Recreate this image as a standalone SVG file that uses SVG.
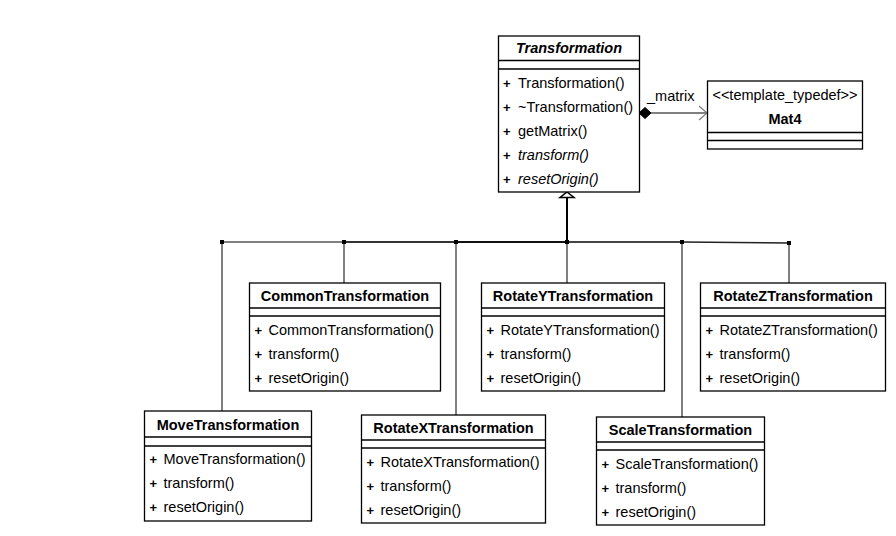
<svg xmlns="http://www.w3.org/2000/svg" width="896" height="536" viewBox="0 0 896 536">
<style>
text{font-family:"Liberation Sans",Arial,sans-serif;font-size:14.5px;fill:#000}
.t{font-weight:bold;text-anchor:middle}
.ti{font-weight:bold;font-style:italic;text-anchor:middle}
.i{font-style:italic}
.c{text-anchor:middle}
.p{font-weight:bold;font-size:13px}
.b{fill:#fff;stroke:#000;stroke-width:1.3}
.s{stroke:#000;stroke-width:1.3}
.g{stroke:#808080;stroke-width:2;fill:none}
</style>
<defs>
<g id="plus3"><text class="p" x="5" y="52">+</text><text class="p" x="5" y="76">+</text><text class="p" x="5" y="100">+</text></g>
</defs>
<rect width="896" height="536" fill="#fff"/>
<g id="connectors">
<line class="g" x1="222" y1="242" x2="222" y2="411"/>
<line class="g" x1="344" y1="242" x2="344" y2="283"/>
<line class="g" x1="456" y1="242" x2="456" y2="415"/>
<line class="g" x1="567" y1="242" x2="567" y2="283"/>
<line class="g" x1="682" y1="242" x2="682" y2="417"/>
<line class="g" x1="789" y1="243" x2="789" y2="283"/>
<line x1="222" y1="242" x2="344" y2="242" stroke="#808080" stroke-width="2"/>
<line x1="344" y1="242" x2="456" y2="242" stroke="#333" stroke-width="2"/>
<line x1="456" y1="242" x2="567" y2="242" stroke="#111" stroke-width="2"/>
<line x1="567" y1="242" x2="682" y2="242" stroke="#444" stroke-width="2"/>
<line x1="682" y1="242" x2="789" y2="243" stroke="#222" stroke-width="1.3"/>
<line x1="567" y1="197" x2="567" y2="242" stroke="#000" stroke-width="2"/>
<path d="M567,192 L574,197.5 L560,197.5 Z" fill="#fff" stroke="#000" stroke-width="1.5"/>
<g fill="#000"><rect x="220" y="240" width="4" height="4"/><rect x="342" y="240" width="4" height="4"/><rect x="454" y="240" width="4" height="4"/><rect x="565" y="240" width="4" height="4"/><rect x="680" y="240" width="4" height="4"/><rect x="787" y="241" width="4" height="4"/></g>
<line x1="651" y1="113" x2="706" y2="113" stroke="#808080" stroke-width="2"/>
<path d="M699,106 L707,113 L699,120" fill="none" stroke="#808080" stroke-width="1.3"/>
<path d="M639,113 L645,107.5 L651,113 L645,118.5 Z" fill="#000" stroke="#000"/>
<text x="647" y="101">_matrix</text>
</g>
<g id="Transformation">
<rect class="b" x="498.5" y="36" width="141" height="156"/>
<line class="s" x1="498.5" y1="60.5" x2="639.5" y2="60.5"/>
<line class="s" x1="498.5" y1="69" x2="639.5" y2="69"/>
<text class="ti" x="569" y="53">Transformation</text>
<text class="p" x="503" y="88">+</text><text x="518" y="88">Transformation()</text>
<text class="p" x="503" y="112">+</text><text x="518" y="112">~Transformation()</text>
<text class="p" x="503" y="136">+</text><text x="518" y="136">getMatrix()</text>
<text class="p" x="503" y="160">+</text><text class="i" x="518" y="160">transform()</text>
<text class="p" x="503" y="184">+</text><text class="i" x="518" y="184">resetOrigin()</text>
</g>
<g id="Mat4">
<rect class="b" x="707.5" y="81" width="155" height="68"/>
<line class="s" x1="707.5" y1="132.5" x2="862.5" y2="132.5"/>
<line class="s" x1="707.5" y1="140.5" x2="862.5" y2="140.5"/>
<text class="c" x="785" y="100">&lt;&lt;template_typedef&gt;&gt;</text>
<text class="t" x="785" y="124">Mat4</text>
</g>
<g id="CommonTransformation" transform="translate(249.5,283)">
<rect class="b" x="0" y="0" width="191" height="108"/>
<line class="s" x1="0" y1="25" x2="191" y2="25"/><line class="s" x1="0" y1="33" x2="191" y2="33"/>
<text class="t" x="95.5" y="18">CommonTransformation</text>
<use href="#plus3"/>
<text x="19" y="52">CommonTransformation()</text><text x="19" y="76">transform()</text><text x="19" y="100">resetOrigin()</text>
</g>
<g id="RotateYTransformation" transform="translate(481.5,283)">
<rect class="b" x="0" y="0" width="183" height="108"/>
<line class="s" x1="0" y1="25" x2="183" y2="25"/><line class="s" x1="0" y1="33" x2="183" y2="33"/>
<text class="t" x="91.5" y="18">RotateYTransformation</text>
<use href="#plus3"/>
<text x="19" y="52">RotateYTransformation()</text><text x="19" y="76">transform()</text><text x="19" y="100">resetOrigin()</text>
</g>
<g id="RotateZTransformation" transform="translate(700.5,283)">
<rect class="b" x="0" y="0" width="185" height="108"/>
<line class="s" x1="0" y1="25" x2="185" y2="25"/><line class="s" x1="0" y1="33" x2="185" y2="33"/>
<text class="t" x="92.5" y="18">RotateZTransformation</text>
<use href="#plus3"/>
<text x="19" y="52">RotateZTransformation()</text><text x="19" y="76">transform()</text><text x="19" y="100">resetOrigin()</text>
</g>
<g id="MoveTransformation" transform="translate(144.5,411)">
<rect class="b" x="0" y="0" width="167" height="110"/>
<line class="s" x1="0" y1="26" x2="167" y2="26"/><line class="s" x1="0" y1="35" x2="167" y2="35"/>
<text class="t" x="83.5" y="19">MoveTransformation</text>
<use href="#plus3" transform="translate(0,1)"/>
<text x="19" y="53">MoveTransformation()</text><text x="19" y="77">transform()</text><text x="19" y="101">resetOrigin()</text>
</g>
<g id="RotateXTransformation" transform="translate(361.5,415)">
<rect class="b" x="0" y="0" width="184" height="108"/>
<line class="s" x1="0" y1="25" x2="184" y2="25"/><line class="s" x1="0" y1="33" x2="184" y2="33"/>
<text class="t" x="92" y="18">RotateXTransformation</text>
<use href="#plus3"/>
<text x="19" y="52">RotateXTransformation()</text><text x="19" y="76">transform()</text><text x="19" y="100">resetOrigin()</text>
</g>
<g id="ScaleTransformation" transform="translate(596.5,417)">
<rect class="b" x="0" y="0" width="168" height="108"/>
<line class="s" x1="0" y1="25" x2="168" y2="25"/><line class="s" x1="0" y1="33" x2="168" y2="33"/>
<text class="t" x="84" y="18">ScaleTransformation</text>
<use href="#plus3"/>
<text x="19" y="52">ScaleTransformation()</text><text x="19" y="76">transform()</text><text x="19" y="100">resetOrigin()</text>
</g>
</svg>
